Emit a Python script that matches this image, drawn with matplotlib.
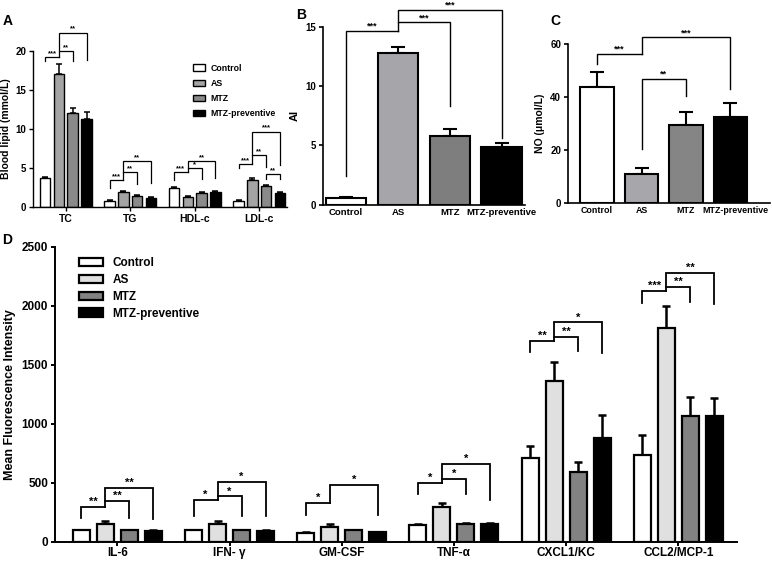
import numpy as np
import matplotlib
matplotlib.use("Agg")
import matplotlib.pyplot as plt
from matplotlib.transforms import ScaledTranslation

plt.rcParams['font.family'] = ['Liberation Sans', 'DejaVu Sans']
plt.rcParams['font.weight'] = 'bold'
plt.rcParams['axes.labelweight'] = 'bold'

series = ['Control', 'AS', 'MTZ', 'MTZ-preventive']

# panel A: blood lipids
lipid_groups = ['TC', 'TG', 'HDL-c', 'LDL-c']
lipid_control = [3.7, 0.8, 2.4, 0.8]
lipid_control_err = [0.2, 0.05, 0.15, 0.05]
lipid_as = [17.1, 1.9, 1.3, 3.5]
lipid_as_err = [1.2, 0.12, 0.1, 0.2]
lipid_mtz = [12.1, 1.4, 1.8, 2.65]
lipid_mtz_err = [0.6, 0.08, 0.08, 0.12]
lipid_prev = [11.3, 1.2, 1.95, 1.85]
lipid_prev_err = [0.9, 0.05, 0.08, 0.1]

# panel B: atherogenic index
ai_vals = [0.6, 12.8, 5.8, 4.85]
ai_err = [0.05, 0.5, 0.55, 0.35]

# panel C: NO
no_vals = [44, 11, 29.5, 32.5]
no_err = [5.5, 2.3, 4.8, 5.5]

# panel D: cytokines
cytokines = ['IL-6', 'IFN- γ', 'GM-CSF', 'TNF-α', 'CXCL1/KC', 'CCL2/MCP-1']
mfi_control = [100, 100, 78, 140, 707, 735]
mfi_control_err = [5, 5, 5, 8, 108, 167]
mfi_as = [150, 155, 130, 293, 1360, 1810]
mfi_as_err = [27, 20, 25, 34, 168, 187]
mfi_mtz = [100, 100, 100, 153, 595, 1070]
mfi_mtz_err = [5, 5, 5, 5, 84, 159]
mfi_prev = [95, 95, 80, 153, 877, 1070]
mfi_prev_err = [5, 5, 5, 8, 196, 150]

# significance brackets: (group, bar_i, bar_j, height, leg_i, leg_j, label)
lipid_sig = [
    (0, 0, 1, 19.2, 18.7, 19.2, '***'), (0, 1, 2, 20.0, 19.2, 18.7, '**'),
    (0, 1, 3, 22.35, 20.0, 18.8, '**'),
    (1, 0, 1, 3.4, 2.5, 3.4, '***'), (1, 1, 2, 4.47, 3.4, 3.0, '**'),
    (1, 1, 3, 5.9, 4.47, 3.06, '**'),
    (2, 0, 1, 4.43, 3.5, 4.43, '***'), (2, 1, 2, 5.0, 4.43, 3.6, '*'),
    (2, 1, 3, 5.87, 5.0, 3.75, '**'),
    (3, 0, 1, 5.53, 5.0, 5.53, '***'), (3, 1, 2, 6.7, 5.53, 5.1, '**'),
    (3, 1, 3, 9.66, 6.7, 5.45, '***'), (3, 2, 3, 4.26, 3.6, 3.6, '**'),
]
ai_sig = [(0, 1, 14.66, 2.44, 14.66, '***'), (1, 2, 15.4, 14.66, 8.3, '***'),
          (1, 3, 16.45, 15.4, 5.6, '***')]
no_sig = [(0, 1, 56.4, 52.4, 56.4, '***'), (1, 2, 47, 20.5, 40.4, '**'),
          (1, 3, 62.6, 56.4, 43, '***')]
mfi_sig = [
    (0, 0, 1, 300, 200, 300, '**'), (0, 1, 2, 345, 300, 205, '**'),
    (0, 1, 3, 455, 345, 190, '**'),
    (1, 0, 1, 355, 220, 355, '*'), (1, 1, 2, 385, 355, 220, '*'),
    (1, 1, 3, 505, 385, 220, '*'),
    (2, 0, 1, 330, 225, 330, '*'), (2, 1, 3, 485, 330, 225, '*'),
    (3, 0, 1, 503, 405, 503, '*'), (3, 1, 2, 537, 503, 405, '*'),
    (3, 1, 3, 663, 537, 355, '*'),
    (4, 0, 1, 1706, 1608, 1706, '**'), (4, 1, 2, 1740, 1706, 1614, '**'),
    (4, 1, 3, 1860, 1740, 1600, '*'),
    (5, 0, 1, 2125, 2027, 2125, '***'), (5, 1, 2, 2162, 2125, 2035, '**'),
    (5, 1, 3, 2280, 2162, 2018, '**'),
]


def style_axis(ax, lw=1.2):
    for s in ['top', 'right']:
        ax.spines[s].set_visible(False)
    for s in ['left', 'bottom']:
        ax.spines[s].set_linewidth(lw)
    ax.tick_params(width=lw, length=3, pad=2)


def bracket(ax, x1, x2, y, y1, y2, label, lw, fs):
    ax.plot([x1, x1, x2, x2], [y1, y, y, y2], color='k', lw=lw,
            clip_on=False, solid_joinstyle='miter')
    ax.text((x1 + x2) / 2, y, label, ha='center', va='bottom',
            fontsize=fs, clip_on=False)


def upper_err(ax, x, vals, errs, lw, cap):
    ax.errorbar(x, vals, yerr=[np.zeros(len(errs)), errs], fmt='none',
                ecolor='k', elinewidth=lw, capsize=cap, capthick=lw, zorder=1)


fig = plt.figure(figsize=(7.72, 5.61), dpi=100)

# ---------- A ----------
axA = fig.add_axes([0.0427, 0.631, 0.329, 0.278])
colsA = ['white', '#a4a4a4', '#8a8a8a', 'black']
valsA = [lipid_control, lipid_as, lipid_mtz, lipid_prev]
errsA = [lipid_control_err, lipid_as_err, lipid_mtz_err, lipid_prev_err]
xg = np.arange(len(lipid_groups))
step, w = 0.214, 0.163
for k in range(4):
    xs = xg + (k - 1.5) * step
    upper_err(axA, xs, valsA[k], errsA[k], 1.1, 2.2)
    axA.bar(xs, valsA[k], w, color=colsA[k], edgecolor='k', lw=1.0,
            label=series[k], zorder=2)
for g, i, j, y, yi, yj, lab in lipid_sig:
    bracket(axA, g + (i - 1.5) * step, g + (j - 1.5) * step, y, yi, yj, lab, 0.9, 5.5)
axA.set_xlim(-0.51, 3.43)
axA.set_ylim(0, 20)
axA.set_yticks([0, 5, 10, 15, 20])
axA.set_xticks(xg)
axA.set_xticklabels(lipid_groups, fontsize=7.5)
axA.tick_params(axis='y', labelsize=7)
axA.set_ylabel('Blood lipid (mmol/L)', fontsize=7.5, labelpad=3)
style_axis(axA, 1.0)
axA.legend(loc='upper left', bbox_to_anchor=(0.6, 0.97), frameon=False,
           fontsize=6.3, handlelength=1.4, handleheight=0.7, labelspacing=0.7,
           handletextpad=0.6)

# ---------- B ----------
axB = fig.add_axes([0.418, 0.635, 0.262, 0.317])
colsB = ['white', '#a6a6aa', '#7e7e7e', 'black']
x4 = np.arange(4)
upper_err(axB, x4, ai_vals, ai_err, 1.5, 5)
axB.bar(x4, ai_vals, 0.78, color=colsB, edgecolor='k', lw=1.5, zorder=2)
for i, j, y, yi, yj, lab in ai_sig:
    bracket(axB, i, j, y, yi, yj, lab, 1.0, 6.5)
axB.set_xlim(-0.45, 3.45)
axB.set_ylim(0, 15)
axB.set_yticks([0, 5, 10, 15])
axB.set_xticks(x4)
axB.set_xticklabels(series, fontsize=6.8)
axB.tick_params(axis='y', labelsize=7)
axB.set_ylabel('AI', fontsize=8)
style_axis(axB, 1.2)
axB.tick_params(axis='x', length=0)

# ---------- C ----------
axC = fig.add_axes([0.736, 0.638, 0.262, 0.283])
colsC = ['white', '#a6a6ab', '#858585', 'black']
upper_err(axC, x4, no_vals, no_err, 1.5, 5)
axC.bar(x4, no_vals, 0.75, color=colsC, edgecolor='k', lw=1.5, zorder=2)
for i, j, y, yi, yj, lab in no_sig:
    bracket(axC, i, j, y, yi, yj, lab, 1.0, 6.5)
axC.set_xlim(-0.65, 3.9)
axC.set_ylim(0, 60)
axC.set_yticks([0, 20, 40, 60])
axC.set_xticks(x4)
axC.set_xticklabels(series, fontsize=6.4)
axC.tick_params(axis='y', labelsize=7)
axC.set_ylabel('NO (μmol/L)', fontsize=7.5)
style_axis(axC, 1.2)
axC.tick_params(axis='x', length=0)
last = axC.get_xticklabels()[-1]
last.set_transform(last.get_transform() + ScaledTranslation(0.05, 0, fig.dpi_scale_trans))

# ---------- D ----------
axD = fig.add_axes([0.0712, 0.034, 0.883, 0.526])
colsD = ['white', '#e0e0e0', '#828282', 'black']
valsD = [mfi_control, mfi_as, mfi_mtz, mfi_prev]
errsD = [mfi_control_err, mfi_as_err, mfi_mtz_err, mfi_prev_err]
xc = np.arange(len(cytokines))
stepD, wD = 0.214, 0.152
for k in range(4):
    xs = xc + (k - 1.5) * stepD
    upper_err(axD, xs, valsD[k], errsD[k], 1.8, 3)
    axD.bar(xs, valsD[k], wD, color=colsD[k], edgecolor='k', lw=1.6,
            label=series[k], zorder=2)
for g, i, j, y, yi, yj, lab in mfi_sig:
    bracket(axD, g + (i - 1.5) * stepD, g + (j - 1.5) * stepD, y, yi, yj, lab, 1.3, 8)
axD.set_xlim(-0.557, 5.52)
axD.set_ylim(0, 2500)
axD.set_yticks([0, 500, 1000, 1500, 2000, 2500])
axD.set_xticks(xc)
axD.set_xticklabels(cytokines, fontsize=8.5)
axD.tick_params(axis='y', labelsize=8.5)
axD.set_ylabel('Mean Fluorescence Intensity', fontsize=9)
style_axis(axD, 1.4)
axD.tick_params(axis='x', pad=1)
axD.legend(loc='upper left', bbox_to_anchor=(0.02, 1.0), frameon=False,
           fontsize=8.5, handlelength=2.0, handleheight=0.7,
           labelspacing=0.4, handletextpad=0.8)

# panel letters
fig.text(0.003, 0.975, 'A', fontsize=10, va='top')
fig.text(0.384, 0.985, 'B', fontsize=10, va='top')
fig.text(0.713, 0.975, 'C', fontsize=10, va='top')
fig.text(0.003, 0.585, 'D', fontsize=10, va='top')

fig.savefig('out.png', dpi=100)
